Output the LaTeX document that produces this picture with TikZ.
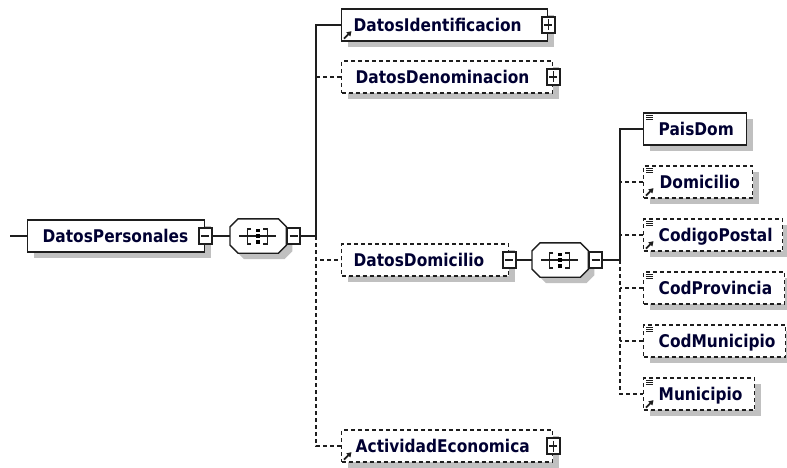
\documentclass[tikz,border=0pt]{standalone}
\usepackage{fontspec}
\setmainfont{DejaVu Sans}
\newfontfamily\lblfont[FakeStretch=0.88]{DejaVu Sans}
\usetikzlibrary{shadows,arrows.meta,calc}
\definecolor{shadowgray}{RGB}{192,192,192}
\definecolor{txtnavy}{RGB}{0,0,50}
\definecolor{edgegray}{RGB}{30,30,30}
\newcommand\octpath[3]{($(#1.north west)+(8+#2,#3)$) -- ($(#1.north east)+(-8+#2,#3)$) -- ($(#1.north east)+(#2,8+#3)$) -- ($(#1.south east)+(#2,-8+#3)$) -- ($(#1.south east)+(-8+#2,#3)$) -- ($(#1.south west)+(8+#2,#3)$) -- ($(#1.south west)+(#2,-8+#3)$) -- ($(#1.north west)+(#2,8+#3)$) -- cycle}
\newcommand\seqicon[1]{%
  \draw[line width=1.1pt] ($(#1.center)+(-19,0)$) -- ($(#1.center)+(18,0)$);
  \draw[line width=1.1pt] ($(#1.center)+(-7,-7)$) -- ($(#1.center)+(-11,-7)$) -- ($(#1.center)+(-11,8)$) -- ($(#1.center)+(-7,8)$);
  \draw[line width=1.1pt] ($(#1.center)+(5,-7)$) -- ($(#1.center)+(9,-7)$) -- ($(#1.center)+(9,8)$) -- ($(#1.center)+(5,8)$);
  \fill ($(#1.center)+(-1.8,-7.5)$) rectangle ($(#1.center)+(1.8,-3.9)$);
  \fill ($(#1.center)+(-1.8,-1.8)$) rectangle ($(#1.center)+(1.8,1.8)$);
  \fill ($(#1.center)+(-1.8,4.2)$) rectangle ($(#1.center)+(1.8,7.8)$);}
\newcommand\eqmark[1]{%
  \foreach \k in {3,5.3,7.6} {\draw[line width=0.9pt] ($(#1.north west)+(3,\k)$) -- ($(#1.north west)+(10,\k)$);}}
\newcommand\refmark[1]{%
  \draw[line width=1.8pt, -{Triangle[length=4.5pt,width=5.5pt]}] ($(#1.south west)+(3,-3)$) -- ($(#1.south west)+(10.5,-10.5)$);}
\begin{document}
\begin{tikzpicture}[x=1pt,y=-1pt, line width=1.4pt, draw=edgegray,
  elbox/.style={draw=edgegray, fill=white, rectangle, inner sep=0pt, minimum height=32pt,
    general shadow={fill=shadowgray, shadow xshift=6pt, shadow yshift=-6pt}},
  optbox/.style={elbox, dash pattern=on 4pt off 3pt},
  dsh/.style={dash pattern=on 4pt off 3pt},
  seqnode/.style={rectangle, inner sep=0pt, minimum width=55pt, minimum height=33pt},
  lbl/.style={font=\lblfont\bfseries\fontsize{17.5}{20}\selectfont, text=txtnavy, inner sep=0pt, anchor=base west},
  pmbox/.style={draw=edgegray, fill=white, solid, rectangle, inner sep=0pt, minimum width=13pt, minimum height=16pt, line width=1.2pt},
  mbox/.style={pmbox, path picture={\draw[line width=1.1pt] ($(path picture bounding box.west)+(2.5,0)$) -- ($(path picture bounding box.east)+(-2.5,0)$);}},
  pbox/.style={pmbox, path picture={\draw[line width=1.1pt] ($(path picture bounding box.west)+(2.5,0)$) -- ($(path picture bounding box.east)+(-2.5,0)$);
      \draw[line width=1.1pt] ($(path picture bounding box.north)+(0,2.5)$) -- ($(path picture bounding box.south)+(0,-2.5)$);}}
]
\useasboundingbox (0,0) rectangle (787,468);
\fill[white] (0,0) rectangle (787,468);

% coordinates of trunks
\coordinate (in) at (10,236);
\coordinate (t1) at (316,236);
\coordinate (t2) at (620,260);

% ---------- DatosPersonales and first sequence
\node[elbox, minimum width=177pt, anchor=west] (dp) at (27,236) {};
\node[lbl] (dpl) at ($(dp.west)+(15,6.2)$) {DatosPersonales};
\node[mbox] (dpm) at (dp.east) {};

\node[seqnode, anchor=west] (s1) at (230,236) {};
\fill[shadowgray] \octpath{s1}{6}{6};
\filldraw[fill=white, draw=edgegray] \octpath{s1}{0}{0};
\seqicon{s1}
\node[mbox, anchor=west] (s1m) at (s1.east) {};

% ---------- children of the first sequence
\node[elbox, minimum width=206pt, anchor=west] (di) at (341,25) {};
\node[lbl] (dil) at ($(di.west)+(12,6.2)$) {DatosIdentificacion};
\refmark{di}
\node[pbox] (dip) at (di.east) {};

\node[optbox, minimum width=211pt, anchor=west] (dn) at (341,77) {};
\node[lbl] (dnl) at ($(dn.west)+(14,6.2)$) {DatosDenominacion};
\node[pbox] (dnp) at (dn.east) {};

\node[optbox, minimum width=167pt, anchor=west] (dd) at (341,260) {};
\node[lbl] (ddl) at ($(dd.west)+(12,6.2)$) {DatosDomicilio};
\node[mbox] (ddm) at (dd.east) {};

\node[optbox, minimum width=211pt, anchor=west] (ae) at (341,446) {};
\node[lbl] (ael) at ($(ae.west)+(14,6.2)$) {ActividadEconomica};
\refmark{ae}
\node[pbox] (aep) at (ae.east) {};

% ---------- second sequence
\node[seqnode, anchor=west] (s2) at (532,260) {};
\fill[shadowgray] \octpath{s2}{6}{6};
\filldraw[fill=white, draw=edgegray] \octpath{s2}{0}{0};
\seqicon{s2}
\node[mbox, anchor=west] (s2m) at (s2.east) {};

% ---------- children of the second sequence
\node[elbox, minimum width=103pt, anchor=west] (pd) at (643,129) {};
\node[lbl] (pdl) at ($(pd.west)+(15,6.2)$) {PaisDom};
\eqmark{pd}

\node[optbox, minimum width=109pt, anchor=west] (dm) at (643,182) {};
\node[lbl] (dml) at ($(dm.west)+(16,6.2)$) {Domicilio};
\eqmark{dm}\refmark{dm}

\node[optbox, minimum width=139pt, anchor=west] (cp) at (643,235) {};
\node[lbl] (cpl) at ($(cp.west)+(15,6.2)$) {CodigoPostal};
\eqmark{cp}\refmark{cp}

\node[optbox, minimum width=141pt, anchor=west] (cpr) at (643,288) {};
\node[lbl] (cprl) at ($(cpr.west)+(15,6.2)$) {CodProvincia};
\eqmark{cpr}

\node[optbox, minimum width=142pt, anchor=west] (cmu) at (643,341) {};
\node[lbl] (cmul) at ($(cmu.west)+(15,6.2)$) {CodMunicipio};
\eqmark{cmu}

\node[optbox, minimum width=111pt, anchor=west] (mu) at (643,394) {};
\node[lbl] (mul) at ($(mu.west)+(15,6.2)$) {Municipio};
\eqmark{mu}\refmark{mu}

% ---------- connectors
\draw (in) -- (dp.west);
\draw (dpm.east) -- (s1.west);
\draw (s1m.east) -- (t1);
\draw (t1) |- (di.west);
\draw[dsh] (dn.west) -- (dn.west -| t1);
\draw[dsh] (t1) |- (dd.west);
\draw[dsh] (t1) |- (ae.west);

\draw (ddm.east) -- (s2.west);
\draw (s2m.east) -- (t2);
\draw (t2) |- (pd.west);
\draw[dsh] (dm.west) -- (dm.west -| t2);
\draw[dsh] (cp.west) -- (cp.west -| t2);
\draw[dsh] (t2) |- (mu.west);
\draw[dsh] (cpr.west) -- (cpr.west -| t2);
\draw[dsh] (cmu.west) -- (cmu.west -| t2);
\end{tikzpicture}
\end{document}
